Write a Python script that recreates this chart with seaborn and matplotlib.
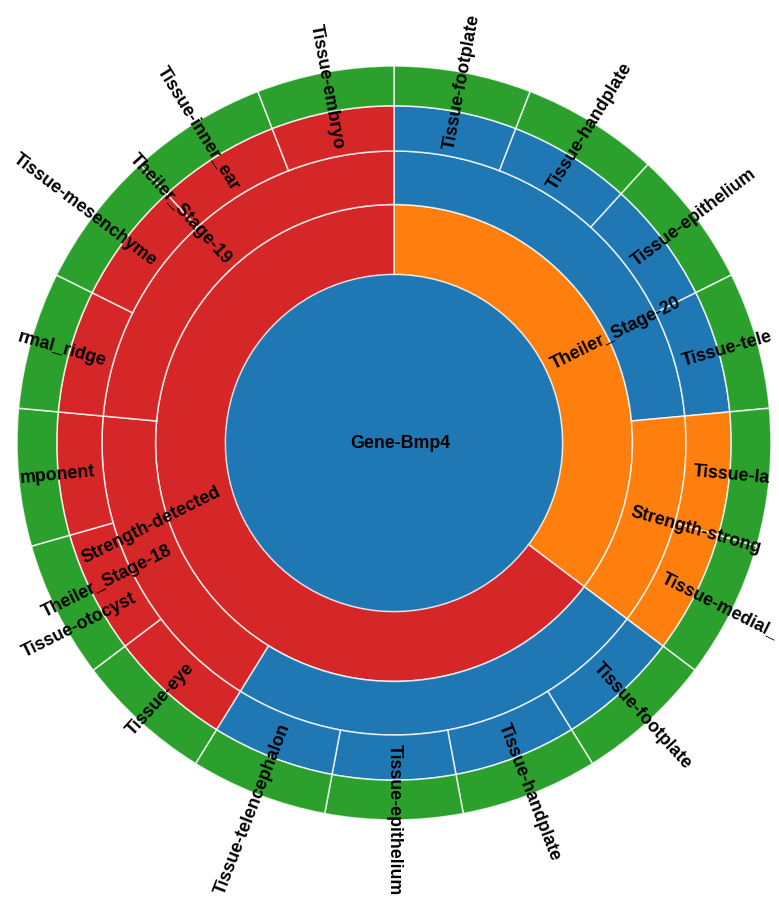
import matplotlib
matplotlib.use("Agg")
import matplotlib.pyplot as plt
import seaborn as sns
import numpy as np

# sunburst: gene -> first split -> second split -> tissue (one leaf each)
gene = "Gene-Bmp4"
level1_names = ["Theiler_Stage-20", "Strength-detected"]
level2_names = ["", "Strength-strong", "", "Theiler_Stage-18", "Theiler_Stage-19"]
level2_parent = [0, 0, 1, 1, 1]
tissue_names = ["Tissue-footplate", "Tissue-handplate", "Tissue-epithelium", "Tissue-tele",
                "Tissue-la", "Tissue-medial_",
                "Tissue-footplate", "Tissue-handplate", "Tissue-epithelium", "Tissue-telencephalon",
                "Tissue-eye", "Tissue-otocyst", "mponent",
                "rmal_ridge", "Tissue-mesenchyme", "Tissue-inner_ear", "Tissue-embryo"]
tissue_parent = [0, 0, 0, 0, 1, 1, 2, 2, 2, 2, 3, 3, 3, 4, 4, 4, 4]
tissue_counts = [1, 1, 1, 1, 1, 1, 1, 1, 1, 1, 1, 1, 1, 1, 1, 1, 1]

level2_counts = [sum(c for c, p in zip(tissue_counts, tissue_parent) if p == i)
                 for i in range(len(level2_names))]
level1_counts = [sum(c for c, p in zip(level2_counts, level2_parent) if p == i)
                 for i in range(len(level1_names))]

sns.set_theme(style="white")
plt.rcParams['font.family'] = ['Liberation Sans', 'DejaVu Sans']

pal = sns.color_palette("tab10")
blue, orange, green, red = pal[0], pal[1], pal[2], pal[3]
level1_colors = [orange, red]
level2_colors = [blue, orange, blue, red, red]
tissue_colors = [level2_colors[p] for p in tissue_parent]

fig = plt.figure(figsize=(7.79, 9.04), dpi=100)
ax = fig.add_axes([0, 0, 1, 1])

cx, cy = 394, 460
R = 377
radii = [R * np.sqrt(k / 5) for k in range(6)]

# labels that sit on the same angle get pushed sideways (px)
side_shift = {"Strength-detected": 35, "Theiler_Stage-18": 5, "Tissue-otocyst": -22}

# root disc
ax.pie([1], radius=radii[1], center=(cx, cy), colors=[blue],
       wedgeprops=dict(linewidth=0))

rings = [(level1_counts, level1_colors, level1_names),
         (level2_counts, level2_colors, level2_names),
         (tissue_counts, tissue_colors, tissue_names),
         (tissue_counts, [green] * len(tissue_counts), None)]

lab_font = dict(fontsize=12.8, fontweight="bold", color="black")


def put_label(name, theta, r_in):
    t = np.radians(theta)
    r = r_in + 8
    s = side_shift.get(name, 0)
    x = cx + r * np.sin(t) + s * np.cos(t)
    y = cy + r * np.cos(t) - s * np.sin(t)
    if theta <= 180 + 1e-6:
        rot, ha = 90 - theta, "left"
    else:
        rot, ha = 270 - theta, "right"
    ax.text(x, y, name, rotation=rot, ha=ha, va="center",
            rotation_mode="anchor", **lab_font)


for i, (vals, cols, names) in enumerate(rings):
    r_in, r_out = radii[i + 1], radii[i + 2]
    ax.pie(vals, radius=r_out, center=(cx, cy), colors=cols,
           startangle=90, counterclock=False,
           wedgeprops=dict(width=r_out - r_in, edgecolor=(1, 1, 1, 0.8),
                           linewidth=1.1))
    if names is None:
        continue
    total = sum(vals)
    start = np.cumsum([0] + list(vals[:-1]))
    for nm, s, v in zip(names, start, vals):
        if nm:
            put_label(nm, (s + v / 2) / total * 360, r_in)

ax.text(cx + 6, cy, gene, ha="center", va="center", **lab_font)

ax.set_xlim(0, 779)
ax.set_ylim(0, 904)
ax.set_aspect("auto")
ax.axis("off")

fig.savefig("out.png", dpi=100)
